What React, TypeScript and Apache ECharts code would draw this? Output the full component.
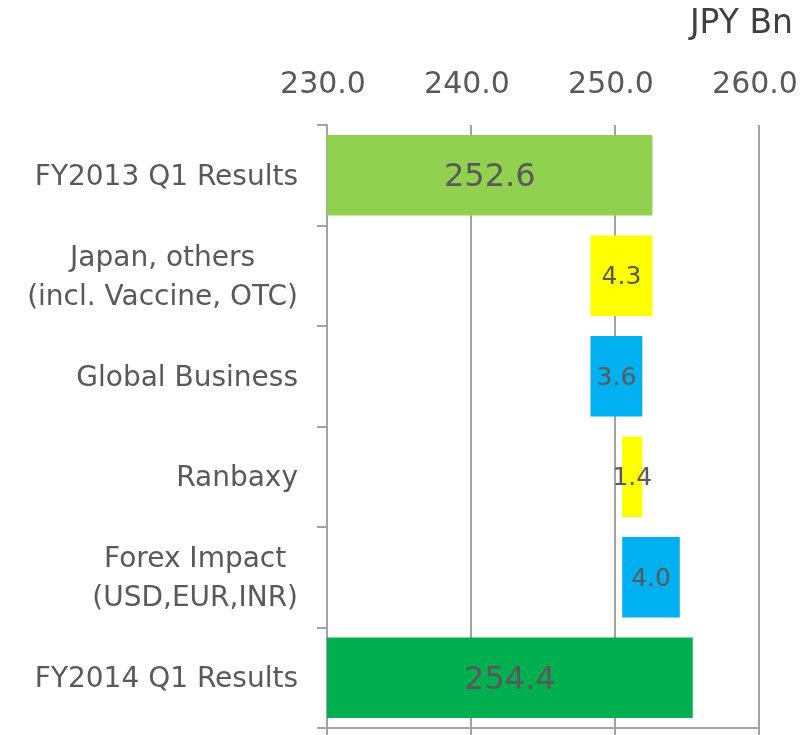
import React, { useEffect, useRef } from 'react';
import * as echarts from 'echarts';

// ---- data ----
const categories = [
  'FY2013 Q1 Results',
  'Japan, others\n(incl. Vaccine, OTC)',
  'Global Business',
  'Ranbaxy',
  'Forex Impact\n(USD,EUR,INR)',
  'FY2014 Q1 Results',
];
const startTotal = 252.6;
const deltas = [-4.3, 3.6, -1.4, 4.0];
const endTotal = 255.4; // bar length as drawn in the reference
const totalLabels = ['252.6', '254.4']; // labels as printed in the reference
const xMin = 230;
const xMax = 260;
const xInterval = 10;
const unitLabel = 'JPY Bn';

const COLORS = {
  startTotal: '#92D050',
  decrease: '#FFFF00',
  increase: '#00B0F0',
  endTotal: '#00B050',
};
const TEXT = '#595959';
const LINE = '#a3a3a3';
const FONT = 'DejaVu Sans';

export default function App() {
  const ref = useRef<HTMLDivElement>(null);

  useEffect(() => {
    if (!ref.current) return;
    const chart = echarts.init(ref.current, undefined, { renderer: 'svg' });

    // build waterfall: transparent base + visible segment
    const base: number[] = [0];
    const vals: number[] = [startTotal];
    const colors: string[] = [COLORS.startTotal];
    const labels: string[] = [totalLabels[0]];
    let run = startTotal;
    deltas.forEach((d) => {
      if (d < 0) {
        base.push(run + d);
        vals.push(-d);
        colors.push(COLORS.decrease);
      } else {
        base.push(run);
        vals.push(d);
        colors.push(COLORS.increase);
      }
      labels.push(Math.abs(d).toFixed(1));
      run += d;
    });
    base.push(0);
    vals.push(endTotal);
    colors.push(COLORS.endTotal);
    labels.push(totalLabels[1]);

    const isTotal = (i: number) => i === 0 || i === vals.length - 1;

    chart.setOption({
      animation: false,
      grid: { left: 327, top: 125, right: 44, bottom: 7, containLabel: false },
      xAxis: [
        {
          type: 'value',
          position: 'top',
          min: xMin,
          max: xMax,
          interval: xInterval,
          axisLine: { show: false },
          axisTick: { show: false },
          axisLabel: {
            margin: 28,
            fontSize: 30,
            fontFamily: FONT,
            color: TEXT,
            padding: [0, 8, 0, 0],
            formatter: (v: number) => v.toFixed(1),
          },
          splitLine: { show: true, lineStyle: { color: LINE, width: 2 } },
        },
        {
          type: 'value',
          position: 'bottom',
          min: xMin,
          max: xMax,
          interval: xInterval,
          axisLine: { show: true, lineStyle: { color: LINE, width: 2 } },
          axisTick: { show: true, length: 10, lineStyle: { color: LINE, width: 2 } },
          axisLabel: { show: false },
          splitLine: { show: false },
        },
      ],
      yAxis: {
        type: 'category',
        inverse: true,
        data: categories,
        axisLine: { show: true, lineStyle: { color: LINE, width: 2 } },
        axisTick: { show: true, length: 10, lineStyle: { color: LINE, width: 2 } },
        axisLabel: {
          margin: 29,
          formatter: (v: string) =>
            v
              .split('\n')
              .map((l) => `{c|${l}}`)
              .join('\n'),
          rich: {
            c: {
              align: 'center',
              fontSize: 28,
              lineHeight: 39,
              fontFamily: FONT,
              color: TEXT,
            },
          },
        },
      },
      series: [
        {
          type: 'bar',
          stack: 'wf',
          silent: true,
          barWidth: '80%',
          itemStyle: { color: 'transparent' },
          data: base,
        },
        {
          type: 'bar',
          stack: 'wf',
          barWidth: '80%',
          data: vals.map((v, i) => ({
            value: v,
            itemStyle: { color: colors[i] },
            label: {
              show: true,
              position: 'inside',
              formatter: () => labels[i],
              fontSize: isTotal(i) ? 32 : 25,
              fontFamily: FONT,
              color: TEXT,
            },
          })),
        },
      ],
      graphic: [
        {
          type: 'text',
          right: 10,
          top: 5,
          style: {
            text: unitLabel,
            fontSize: 33,
            fontFamily: FONT,
            fill: '#404040',
          },
        },
      ],
    });

    return () => chart.dispose();
  }, []);

  return (
    <div
      ref={ref}
      style={{ position: 'fixed', left: 0, top: 0, width: 803, height: 735 }}
    />
  );
}
